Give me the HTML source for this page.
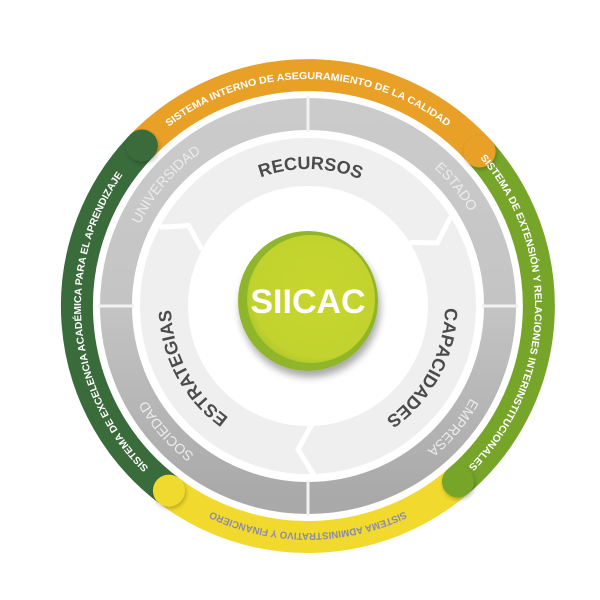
<!DOCTYPE html>
<html><head><meta charset="utf-8"><style>
html,body{margin:0;padding:0;background:#fff;}
svg{display:block;}
text{font-family:"Liberation Sans",sans-serif;}
</style></head><body>
<svg width="600" height="600" viewBox="0 0 600 600" xmlns="http://www.w3.org/2000/svg">
<defs>
<linearGradient id="gg" x1="0" y1="0" x2="0" y2="1">
<stop offset="0" stop-color="#cbcbcb"/><stop offset="0.5" stop-color="#c4c4c4"/><stop offset="1" stop-color="#a9a9a9"/>
</linearGradient>
<radialGradient id="cg" cx="0.55" cy="0.45" r="0.6">
<stop offset="0" stop-color="#c8d62f"/><stop offset="0.85" stop-color="#c2d22e"/><stop offset="1" stop-color="#a9c42c"/>
</radialGradient>
<filter id="sh" x="-30%" y="-30%" width="160%" height="160%"><feGaussianBlur in="SourceAlpha" stdDeviation="4"/><feOffset dx="2" dy="6"/><feComponentTransfer><feFuncA type="linear" slope="0.35"/></feComponentTransfer><feMerge><feMergeNode/><feMergeNode in="SourceGraphic"/></feMerge></filter>
<filter id="cs" x="-50%" y="-50%" width="200%" height="200%"><feGaussianBlur in="SourceAlpha" stdDeviation="2"/><feOffset dx="1" dy="2"/><feComponentTransfer><feFuncA type="linear" slope="0.25"/></feComponentTransfer><feMerge><feMergeNode/><feMergeNode in="SourceGraphic"/></feMerge></filter>
<path id="b0" d="M535,306 A227,227 0 1 1 81,306 A227,227 0 1 1 535,306"/>
<path id="b180" d="M81,306 A227,227 0 1 1 535,306 A227,227 0 1 1 81,306"/>
<path id="g0" d="M495,306 A187,187 0 1 1 121,306 A187,187 0 1 1 495,306"/>
<path id="g180" d="M121,306 A187,187 0 1 1 495,306 A187,187 0 1 1 121,306"/>
<path id="i0" d="M445,306 A137,137 0 1 1 171,306 A137,137 0 1 1 445,306"/>
<path id="i180" d="M171,306 A137,137 0 1 1 445,306 A137,137 0 1 1 171,306"/>
</defs>

<!-- gray ring -->
<circle cx="308" cy="306" r="192" fill="none" stroke="url(#gg)" stroke-width="32"/>
<line x1="308" y1="96" x2="308" y2="132" stroke="#f2f2f2" stroke-width="3"/>
<line x1="308" y1="480" x2="308" y2="516" stroke="#f2f2f2" stroke-width="3"/>
<line x1="98" y1="306" x2="134" y2="306" stroke="#f2f2f2" stroke-width="3"/>
<line x1="482" y1="306" x2="518" y2="306" stroke="#f2f2f2" stroke-width="3"/>

<!-- light ring -->
<circle cx="308" cy="306" r="144" fill="none" stroke="#efefef" stroke-width="48"/>
<polyline points="313.9,475 298,449.6 312.2,424" fill="none" stroke="#fff" stroke-width="5"/>
<polyline points="159.7,227.2 188.6,225.5 202,249.7" fill="none" stroke="#fff" stroke-width="5"/>
<polyline points="450.5,217 437.4,242.9 409.8,242.4" fill="none" stroke="#fff" stroke-width="5"/>

<!-- colored bands -->
<path d="M141.9,145.5 A231,231 0 0 1 479.6,151.5" fill="none" stroke="#e8a027" stroke-width="32"/>
<path d="M479.6,151.5 A231,231 0 0 1 457.9,481.6" fill="none" stroke="#76a52a" stroke-width="32"/>
<path d="M457.9,481.6 A231,231 0 0 1 168.9,490.6" fill="none" stroke="#f1da2d" stroke-width="32"/>
<path d="M168.9,490.6 A231,231 0 0 1 141.9,145.5" fill="none" stroke="#3a6b3b" stroke-width="32"/>
<circle cx="141.9" cy="145.5" r="16" fill="#3a6b3b" filter="url(#cs)"/>
<circle cx="479.6" cy="151.5" r="16" fill="#e8a027" filter="url(#cs)"/>
<circle cx="457.9" cy="481.6" r="16" fill="#76a52a" filter="url(#cs)"/>
<circle cx="168.9" cy="490.6" r="16" fill="#f1da2d" filter="url(#cs)"/>

<!-- band texts -->
<g font-size="10" font-weight="bold">
<text fill="#fff"><textPath href="#b0" startOffset="75%" text-anchor="middle" textLength="300" lengthAdjust="spacingAndGlyphs">SISTEMA INTERNO DE ASEGURAMIENTO DE LA CALIDAD</textPath></text>
<text fill="#fff"><textPath href="#b0" startOffset="48.6%" text-anchor="middle" textLength="320" lengthAdjust="spacingAndGlyphs">SISTEMA DE EXCELENCIA ACADÉMICA PARA EL APRENDIZAJE</textPath></text>
<text fill="#fff"><textPath href="#b180" startOffset="50.6%" text-anchor="middle" textLength="340" lengthAdjust="spacingAndGlyphs">SISTEMA DE EXTENSIÓN Y RELACIONES INTERINSTITUCIONALES</textPath></text>
<text fill="#8b8aad"><textPath href="#b0" startOffset="25%" text-anchor="middle" textLength="200" lengthAdjust="spacingAndGlyphs">SISTEMA ADMINISTRATIVO Y FINANCIERO</textPath></text>
</g>

<!-- gray labels -->
<g font-size="14" fill="#ececec">
<text><textPath href="#g0" startOffset="61.25%" text-anchor="middle">UNIVERSIDAD</textPath></text>
<text><textPath href="#g0" startOffset="89.2%" text-anchor="middle">ESTADO</textPath></text>
<text><textPath href="#g180" startOffset="61.1%" text-anchor="middle">EMPRESA</textPath></text>
<text><textPath href="#g0" startOffset="38.5%" text-anchor="middle">SOCIEDAD</textPath></text>
</g>

<!-- inner labels -->
<g font-size="18" font-weight="bold" fill="#4b4b4b">
<text><textPath href="#i0" startOffset="75.3%" text-anchor="middle">RECURSOS</textPath></text>
<text><textPath href="#i180" startOffset="57.8%" text-anchor="middle">CAPACIDADES</textPath></text>
<text><textPath href="#i0" startOffset="42.2%" text-anchor="middle">ESTRATEGIAS</textPath></text>
</g>

<!-- center -->
<g filter="url(#sh)">
<circle cx="308" cy="301" r="70" fill="#8fb52b"/>
<circle cx="311" cy="299" r="64" fill="url(#cg)"/>
</g>
<text x="308" y="313" text-anchor="middle" font-size="34" font-weight="bold" fill="#fff">SIICAC</text>
</svg>
</body></html>
